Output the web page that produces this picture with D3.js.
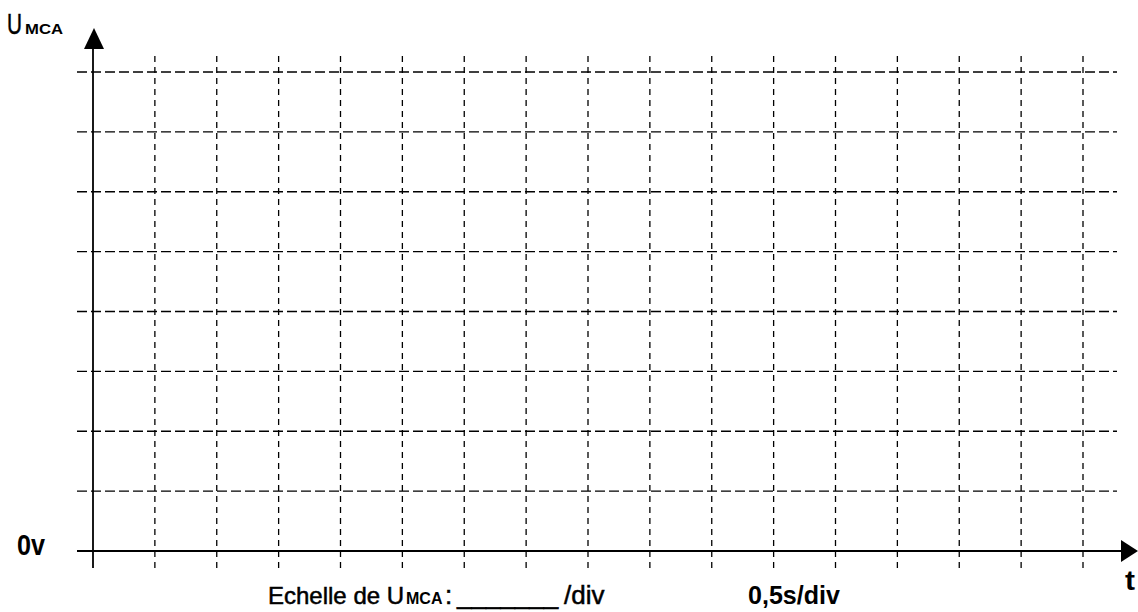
<!DOCTYPE html>
<html><head><meta charset="utf-8">
<script src="https://cdn.jsdelivr.net/npm/d3@7"></script>
<style>
html,body{margin:0;padding:0;background:#fff;}
svg{display:block;}
text{font-family:"Liberation Sans",Arial,Helvetica,sans-serif;fill:#000;}
</style></head>
<body>
<svg id="c" width="1138" height="612"></svg>
<script>
// time divisions (0.5 s/div) and voltage divisions
const timeTicks = [0,1,2,3,4,5,6,7,8,9,10,11,12,13,14,15,16];
const voltTicks = [0,1,2,3,4,5,6,7,8];
const yAxisLabel = ["U","MCA"];
const zeroLabel = "0v";
const tLabel = "t";
const scaleLabel = ["Echelle de U","MCA",":","_______","/div"];
const timeScaleLabel = "0,5s/div";

const svg = d3.select("#c");
const x = d3.scaleLinear().domain([0,16]).range([93,1083]);
const y = d3.scaleLinear().domain([0,8]).range([551,72]);

// horizontal dashed grid
svg.append("g").selectAll("line").data(voltTicks.filter(d=>d>0)).join("line")
  .attr("x1",77).attr("x2",1117)
  .attr("y1",d=>y(d)).attr("y2",d=>y(d))
  .attr("stroke","#000").attr("stroke-width",1.3).attr("stroke-dasharray","10,4");

// vertical dashed grid
svg.append("g").selectAll("line").data(timeTicks.filter(d=>d>0)).join("line")
  .attr("x1",d=>x(d)).attr("x2",d=>x(d))
  .attr("y1",56).attr("y2",568)
  .attr("stroke","#000").attr("stroke-width",1.3).attr("stroke-dasharray","6,5");

// x axis
svg.append("line").attr("x1",77).attr("x2",1124).attr("y1",y(0)).attr("y2",y(0))
  .attr("stroke","#000").attr("stroke-width",1.8);
svg.append("path").attr("d",`M1138,${y(0)} L1121,${y(0)-11} L1121,${y(0)+11} Z`).attr("fill","#000");

// y axis
svg.append("line").attr("x1",x(0)).attr("x2",x(0)).attr("y1",46).attr("y2",568)
  .attr("stroke","#000").attr("stroke-width",1.8);
svg.append("path").attr("d",`M${x(0)+1},28 L${x(0)-9},49 L${x(0)+11},49 Z`).attr("fill","#000");

function label(txt, xx, yy, size, w, bold){
  const t = svg.append("text").attr("x",xx).attr("y",yy).style("font-size",size+"px")
    .attr("textLength",w).attr("lengthAdjust","spacingAndGlyphs").text(txt);
  if(bold) t.style("font-weight","bold");
  else t.attr("stroke","#000").attr("stroke-width",0.5);
  return t;
}

// y-axis label
const ut = svg.append("text").attr("y",34);
ut.append("tspan").attr("x",7).style("font-size","29px").attr("stroke","#000").attr("stroke-width",0.5)
  .attr("textLength",15).attr("lengthAdjust","spacingAndGlyphs").text(yAxisLabel[0]);
ut.append("tspan").attr("x",25).style("font-size","15px").style("font-weight","bold")
  .attr("textLength",38).attr("lengthAdjust","spacingAndGlyphs").text(yAxisLabel[1]);

label(zeroLabel, 17, 555, 29, 28, true);
label(tLabel, 1125, 590, 28, 10, true);

// scale line
const runs = [
  {s:scaleLabel[0], x:268, size:24, bold:false},
  {s:scaleLabel[1], x:406, size:16, bold:true},
  {s:scaleLabel[2], x:445, size:26, bold:false},
  {s:scaleLabel[3], x:457, size:26, bold:false},
  {s:scaleLabel[4], x:564, size:26, bold:false}
];
const st = svg.append("text").attr("y",604);
runs.forEach(r=>{
  const ts = st.append("tspan").attr("x",r.x).style("font-size",r.size+"px").text(r.s);
  if(r.bold) ts.style("font-weight","bold");
  else ts.attr("stroke","#000").attr("stroke-width",0.5);
});

label(timeScaleLabel, 748, 604, 26, 92, true);
</script>
</body></html>
